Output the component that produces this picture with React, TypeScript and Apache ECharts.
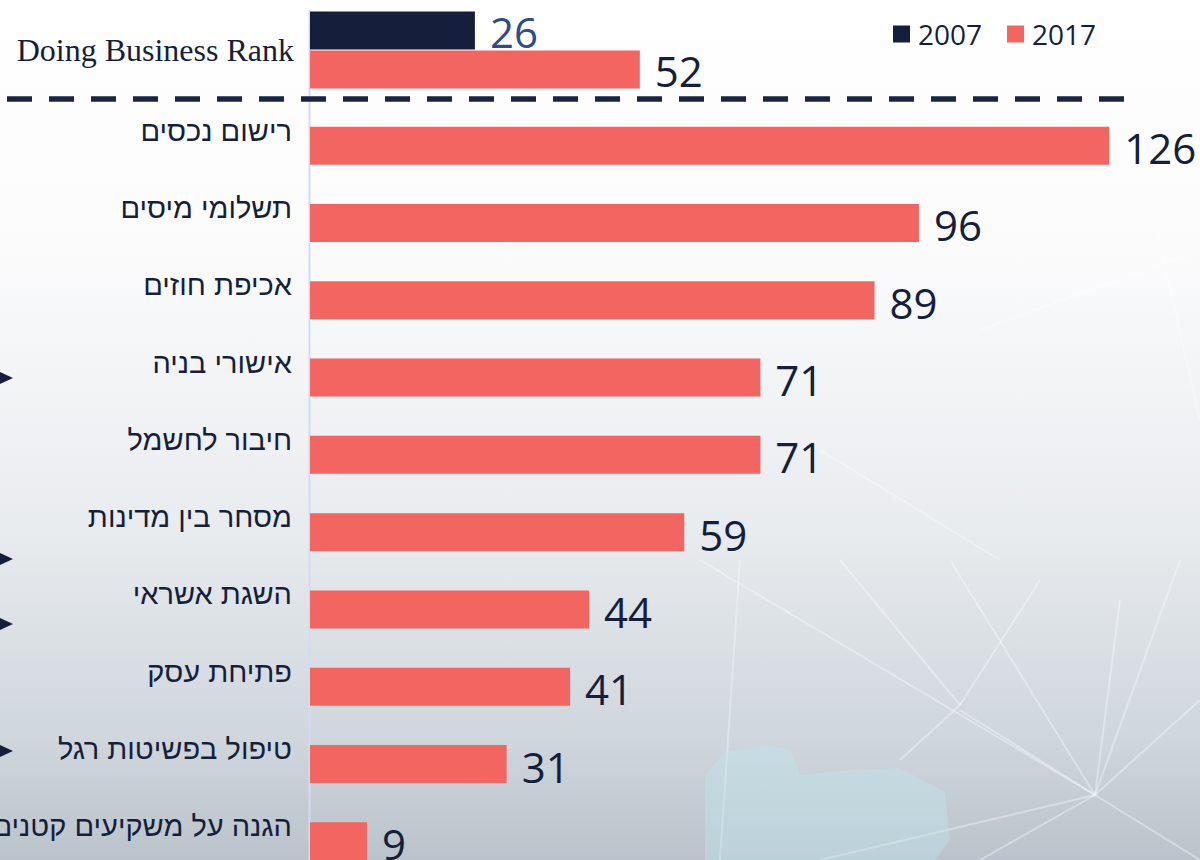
import React, { useEffect, useRef } from "react";
import * as echarts from "echarts";

const topCategory = ["Doing Business Rank"];
const topValues2007 = [26];
const topValues2017 = [52];

const categories = [
  "רישום נכסים",
  "תשלומי מיסים",
  "אכיפת חוזים",
  "אישורי בניה",
  "חיבור לחשמל",
  "מסחר בין מדינות",
  "השגת אשראי",
  "פתיחת עסק",
  "טיפול בפשיטות רגל",
  "הגנה על משקיעים קטנים",
];
const values2017 = [126, 96, 89, 71, 71, 59, 44, 41, 31, 9];

const legendNames = ["2007", "2017"];

const NAVY = "#151f3c";
const RED = "#f26560";
const BLUE_LABEL = "#2f4b8c";

export default function App() {
  const ref = useRef<HTMLDivElement>(null);

  useEffect(() => {
    if (!ref.current) return;
    const chart = echarts.init(ref.current, null, { renderer: "svg" });

    const arrowYs = [378, 559, 624, 751];
    const hubs = [
      { x: 1095, y: 795, ends: [[700, 560], [950, 560], [1180, 560], [1200, 700], [1200, 860], [980, 860], [820, 860], [960, 710], [1120, 600]] },
      { x: 960, y: 705, ends: [[840, 560], [1040, 580], [900, 760]] },
    ];
    const netLines: any[] = [];
    hubs.forEach((h) => {
      h.ends.forEach((e) => {
        netLines.push({
          type: "line",
          silent: true,
          z: -10,
          shape: { x1: h.x, y1: h.y, x2: e[0], y2: e[1] },
          style: { stroke: "rgba(255,255,255,0.35)", lineWidth: 2 },
        });
      });
    });
    [
      [740, 560, 720, 860],
      [1150, 200, 1200, 420],
      [980, 330, 1200, 250],
      [820, 450, 1000, 560],
    ].forEach((l) =>
      netLines.push({
        type: "line",
        silent: true,
        z: -10,
        shape: { x1: l[0], y1: l[1], x2: l[2], y2: l[3] },
        style: { stroke: "rgba(255,255,255,0.3)", lineWidth: 2 },
      })
    );

    const option: any = {
      animation: false,
      backgroundColor: new echarts.graphic.LinearGradient(0, 0, 0, 1, [
        { offset: 0, color: "#ffffff" },
        { offset: 0.28, color: "#fbfbfc" },
        { offset: 0.58, color: "#e9ecef" },
        { offset: 0.82, color: "#cfd6dc" },
        { offset: 0.956, color: "#bac3cb" },
        { offset: 1, color: "#b6bfc8" },
      ]),
      legend: {
        data: legendNames,
        left: 888,
        top: 15,
        itemWidth: 17,
        itemHeight: 17,
        itemGap: 25,
        icon: "rect",
        textStyle: { fontSize: 28, color: NAVY, fontFamily: "Open Sans", padding: [0, 0, 0, 3] },
      },
      grid: [
        { left: 310, right: 2, top: 11, height: 78, containLabel: false, outerBoundsMode: "none" },
        { left: 310, right: 2, top: 107, height: 773, containLabel: false, outerBoundsMode: "none" },
      ],
      xAxis: [
        { type: "value", gridIndex: 0, min: 0, max: 140, show: false },
        { type: "value", gridIndex: 1, min: 0, max: 140, show: false },
      ],
      yAxis: [
        {
          type: "category",
          gridIndex: 0,
          data: topCategory,
          inverse: true,
          axisLine: { show: false },
          axisTick: { show: false },
          axisLabel: {
            fontSize: 32,
            fontFamily: "Liberation Serif",
            color: NAVY,
            margin: 16,
            verticalAlign: "middle",
          },
        },
        {
          type: "category",
          gridIndex: 1,
          data: categories,
          inverse: true,
          axisLine: { show: false },
          axisTick: { show: false },
          axisLabel: {
            fontSize: 29,
            fontFamily: "Liberation Sans, DejaVu Sans",
            color: NAVY,
            margin: 18,
            verticalAlign: "bottom",
            lineHeight: 30,
          },
        },
      ],
      series: [
        {
          name: "2007",
          type: "bar",
          xAxisIndex: 0,
          yAxisIndex: 0,
          data: topValues2007,
          barWidth: 38,
          barGap: "3%",
          itemStyle: { color: NAVY },
          label: {
            show: true,
            position: "right",
            distance: 15,
            fontSize: 42,
            fontFamily: "Open Sans",
            color: BLUE_LABEL,
            offset: [0, 1],
          },
        },
        {
          name: "2017",
          type: "bar",
          xAxisIndex: 0,
          yAxisIndex: 0,
          data: topValues2017,
          barWidth: 38,
          barGap: "3%",
          itemStyle: { color: RED },
          label: {
            show: true,
            position: "right",
            distance: 15,
            fontSize: 42,
            fontFamily: "Open Sans",
            color: NAVY,
            offset: [0, 1],
          },
        },
        {
          name: "2017",
          type: "bar",
          xAxisIndex: 1,
          yAxisIndex: 1,
          data: values2017,
          barWidth: 38,
          itemStyle: { color: RED },
          label: {
            show: true,
            position: "right",
            distance: 15,
            fontSize: 42,
            fontFamily: "Open Sans",
            color: NAVY,
            offset: [0, 2],
          },
        },
      ],
      graphic: [
        ...netLines,
        {
          type: "polygon",
          silent: true,
          z: -9,
          shape: {
            points: [
              [705, 775], [725, 752], [770, 745], [790, 750], [800, 775], [850, 770], [900, 768], [945, 792],
              [950, 840], [935, 860], [705, 860],
            ],
          },
          style: { fill: "rgba(190,230,238,0.4)" },
        },
        {
          type: "line",
          silent: true,
          shape: { x1: 309.5, y1: 10, x2: 309.5, y2: 860 },
          style: { stroke: "#d3dbf3", lineWidth: 2 },
        },
        {
          type: "line",
          silent: true,
          shape: { x1: 7, y1: 99, x2: 1125, y2: 99 },
          style: { stroke: "#1a2440", lineWidth: 5.5, lineDash: [25, 17] },
        },
        ...arrowYs.map((y) => ({
          type: "polygon",
          silent: true,
          shape: { points: [[-2, y - 7], [13, y], [-2, y + 7]] },
          style: { fill: NAVY },
        })),
      ],
    };

    chart.setOption(option);
    return () => chart.dispose();
  }, []);

  return (
    <div style={{ position: "absolute", left: 0, top: 0, width: 1200, height: 860, overflow: "hidden" }}>
      <div ref={ref} style={{ width: 1200, height: 900 }} />
    </div>
  );
}
